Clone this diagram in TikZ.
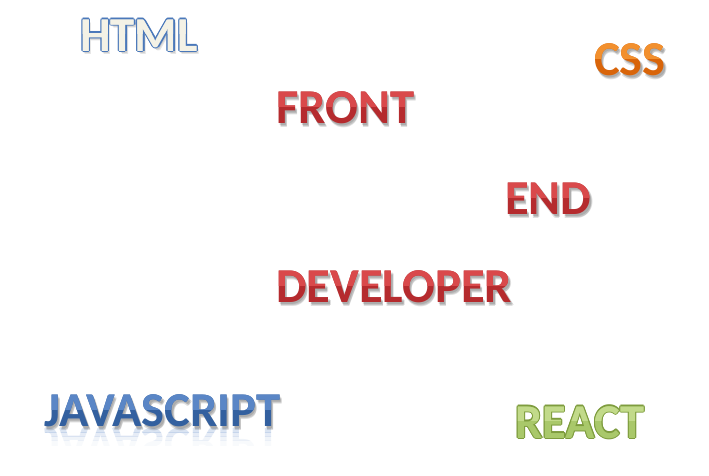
\documentclass[tikz,border=0pt]{standalone}
\usepackage{fontspec}
\setmainfont{Carlito}
\usetikzlibrary{calc}
\definecolor{redD}{HTML}{B52B2E}
\definecolor{redL}{HTML}{D9494B}
\definecolor{orgD}{HTML}{D9650A}
\definecolor{orgL}{HTML}{F2902E}
\definecolor{bluD}{HTML}{33609F}
\definecolor{bluL}{HTML}{5A86C6}
\definecolor{htmO}{HTML}{4A78BA}
\definecolor{htmF}{HTML}{F4F2E6}
\definecolor{grnD}{HTML}{7E9C3E}
\definecolor{grnF}{HTML}{A9C86A}
\definecolor{grnL}{HTML}{C2DA8A}
\newcommand\wafont{\bfseries\fontsize{48.5}{50}\selectfont}
\newcommand\wordfill[5]{% name, pos, text, dark, light
  \foreach \dx/\dy [count=\k] in {1.5/2.5,2.5/3.5,2/4.5}{
    \node[word, text=black, opacity=0.12] (#1s\k) at ($(#2)+(\dx,\dy)$) {#3};}
  \node[word, text=#4] (#1) at (#2) {#3};
  \begin{scope}
    \clip ($(#2)+(-10,-45)$) rectangle ($(#2)+(320,-17)$);
    \node[word, text=#5] (#1h) at (#2) {#3};
  \end{scope}}
\newcommand\wordline[6]{% name, pos, text, outline, fill, light
  \foreach \dx/\dy [count=\k] in {1.2/0,-1.2/0,0/1.2,0/-1.2,0.85/0.85,-0.85/0.85,0.85/-0.85,-0.85/-0.85}{
    \node[word, text=#4] (#1o\k) at ($(#2)+(\dx,\dy)$) {#3};}
  \node[word, text=#5] (#1) at (#2) {#3};
  \begin{scope}
    \clip ($(#2)+(-10,-45)$) rectangle ($(#2)+(320,-18)$);
    \node[word, text=#6] (#1h) at (#2) {#3};
  \end{scope}}
\begin{document}
\begin{tikzpicture}[x=1pt,y=-1pt,
  word/.style={font=\wafont, inner sep=0pt, anchor=base west}]
\useasboundingbox[fill=white] (0,0) rectangle (709,475);
% shadows / outlines
\foreach \dx/\dy [count=\k] in {1.5/2.5,2.5/3.5}{
  \node[word, text=black, opacity=0.1] (htmls\k) at ($(80,51)+(\dx,\dy)$) {HTML};}
\wordline{html}{80,51}{HTML}{htmO}{htmF}{htmF}
\wordfill{css}{594,75}{CSS}{orgD}{orgL}
\wordfill{front}{276,123}{FRONT}{redD}{redL}
\wordfill{end}{505,214}{END}{redD}{redL}
\wordfill{dev}{276,302}{DEVELOPER}{redD}{redL}
% javascript with reflection
\foreach \op/\ya/\yb [count=\k] in {0.22/0/4,0.15/4/8,0.09/8/12,0.04/12/17}{
  \begin{scope}
    \clip ($(44,428)+(-5,\ya)$) rectangle ($(44,428)+(260,\yb)$);
    \node[word, text=bluL, opacity=\op, yscale=-1] (jsr\k) at (44,428) {JAVASCRIPT};
  \end{scope}}
\wordfill{js}{44,426}{JAVASCRIPT}{bluD}{bluL}
\wordline{react}{515,438}{REACT}{grnD}{grnF}{grnL}
\end{tikzpicture}
\end{document}
